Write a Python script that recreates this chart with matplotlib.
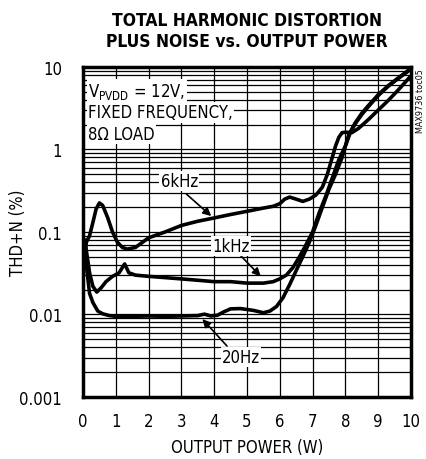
import matplotlib
matplotlib.use("Agg")
import matplotlib.pyplot as plt
from matplotlib.ticker import FixedLocator, NullFormatter

plt.rcParams['font.family'] = ['DejaVu Sans']
plt.rcParams['font.stretch'] = 'condensed'
plt.rcParams['mathtext.fontset'] = 'custom'
plt.rcParams['mathtext.rm'] = 'DejaVu Sans:stretch=condensed'

# 6kHz curve
p_6k = [0.05, 0.1, 0.2, 0.3, 0.4, 0.5, 0.6, 0.75, 0.9, 1.05, 1.2, 1.35, 1.6, 2.0,
        2.5, 3.0, 3.5, 4.0, 4.5, 5.0, 5.5, 5.8, 6.0, 6.15, 6.3, 6.5, 6.7, 6.9,
        7.1, 7.3, 7.45, 7.6, 7.7, 7.8, 7.9, 8.0, 8.2, 8.4, 8.7, 9.0, 9.3, 9.6, 10.0]
thd_6k = [0.05, 0.075, 0.09, 0.13, 0.19, 0.225, 0.21, 0.15, 0.1, 0.075, 0.065, 0.062,
          0.065, 0.085, 0.1, 0.12, 0.135, 0.148, 0.163, 0.178, 0.195, 0.205, 0.22,
          0.25, 0.265, 0.25, 0.235, 0.25, 0.28, 0.35, 0.5, 0.8, 1.1, 1.4, 1.6, 1.62,
          1.6, 1.8, 2.3, 3.0, 3.9, 5.2, 7.8]

# 1kHz curve
p_1k = [0.05, 0.1, 0.2, 0.3, 0.42, 0.55, 0.7, 0.9, 1.1, 1.27, 1.4, 1.6, 2.0, 2.5,
        3.0, 3.5, 4.0, 4.5, 5.0, 5.5, 5.8, 6.0, 6.2, 6.4, 6.6, 6.8, 7.0, 7.2, 7.4,
        7.6, 7.8, 8.0, 8.15, 8.3, 8.5, 8.7, 9.0, 9.3, 9.6, 10.0]
thd_1k = [0.08, 0.06, 0.032, 0.022, 0.0187, 0.021, 0.025, 0.029, 0.032, 0.041, 0.032,
          0.03, 0.029, 0.028, 0.027, 0.026, 0.025, 0.025, 0.024, 0.024, 0.025, 0.027,
          0.03, 0.037, 0.05, 0.07, 0.1, 0.17, 0.27, 0.45, 0.75, 1.1, 1.6, 2.05, 2.65,
          3.3, 4.5, 5.8, 7.2, 9.4]

# 20Hz curve
p_20 = [0.05, 0.1, 0.2, 0.3, 0.45, 0.6, 0.8, 1.0, 1.5, 2.0, 2.5, 3.0, 3.5, 3.7, 3.9,
        4.1, 4.3, 4.5, 4.8, 5.2, 5.5, 5.7, 5.9, 6.1, 6.3, 6.5, 6.7, 6.9, 7.1, 7.3,
        7.5, 7.7, 7.9, 8.1, 8.3, 8.5, 8.7, 9.0, 9.3, 9.6, 10.0]
thd_20 = [0.08, 0.04, 0.018, 0.014, 0.011, 0.0102, 0.0097, 0.0095, 0.0095, 0.0096,
          0.0095, 0.0096, 0.0097, 0.0101, 0.0096, 0.0098, 0.0108, 0.0117, 0.0118,
          0.0112, 0.0105, 0.011, 0.0125, 0.016, 0.023, 0.034, 0.05, 0.075, 0.12, 0.2,
          0.33, 0.5, 0.8, 1.5, 2.1, 2.75, 3.4, 4.6, 5.9, 7.3, 9.6]

x_ticks = [0, 1, 2, 3, 4, 5, 6, 7, 8, 9, 10]
y_ticks = [0.001, 0.01, 0.1, 1, 10]
y_labels = ['0.001', '0.01', '0.1', '1', '10']

fig = plt.figure(figsize=(4.27, 4.60), dpi=100)
ax = fig.add_axes([0.1944, 0.1348, 0.768, 0.7174])

for x, y in [(p_6k, thd_6k), (p_1k, thd_1k), (p_20, thd_20)]:
    ax.plot(x, y, color='black', lw=2.6, solid_capstyle='round', zorder=3)

ax.set_yscale('log')
ax.set_xlim(0, 10)
ax.set_ylim(0.001, 10)
ax.set_xticks(x_ticks)
ax.set_xticklabels([str(t) for t in x_ticks])
ax.set_yticks(y_ticks)
ax.set_yticklabels(y_labels)
ax.yaxis.set_minor_locator(FixedLocator([m * 10.0 ** e for e in range(-3, 1) for m in range(2, 10)]))
ax.yaxis.set_minor_formatter(NullFormatter())
ax.grid(True, which='both', color='black', lw=0.9)
ax.tick_params(which='both', length=0, labelsize=12)
ax.tick_params(axis='x', pad=11)
ax.tick_params(axis='y', pad=15)
for s in ax.spines.values():
    s.set_linewidth(2.5)

ax.set_xlabel('OUTPUT POWER (W)', fontsize=12)
ax.set_ylabel('THD+N (%)', fontsize=12)
ax.xaxis.set_label_coords(0.5, -0.125)
ax.yaxis.set_label_coords(-0.17, 0.5)
fig.suptitle('TOTAL HARMONIC DISTORTION\nPLUS NOISE vs. OUTPUT POWER',
             x=0.578, y=0.975, fontsize=12.5, fontweight='heavy', linespacing=1.25)

box = dict(facecolor='white', edgecolor='none', pad=1)
cond = [r'V$_{\mathrm{PVDD}}$ = 12V,', 'FIXED FREQUENCY,', '8\u03a9 LOAD']
for i, t in enumerate(cond):
    ax.text(0.016, 0.928 - i * 0.065, t, transform=ax.transAxes, fontsize=12,
            va='center', ha='left', bbox=box, zorder=4)

arrow = dict(arrowstyle='-|>', color='black', lw=1.2, mutation_scale=12, shrinkA=0, shrinkB=0)
ax.annotate('', xy=(3.91, 0.156), xytext=(3.15, 0.289), arrowprops=arrow, zorder=4)
ax.text(2.94, 0.415, '6kHz', fontsize=12, ha='center', va='center', bbox=box, zorder=4)
ax.annotate('', xy=(5.42, 0.029), xytext=(4.82, 0.051), arrowprops=arrow, zorder=4)
ax.text(4.52, 0.0676, '1kHz', fontsize=12, ha='center', va='center', bbox=box, zorder=4)
ax.annotate('', xy=(3.64, 0.0088), xytext=(4.39, 0.00415), arrowprops=arrow, zorder=4)
ax.text(4.82, 0.00305, '20Hz', fontsize=12, ha='center', va='center', bbox=box, zorder=4)

fig.text(0.984, 0.78, 'MAX9736 toc05', rotation=90, fontsize=6.5, ha='center', va='center')

fig.savefig('out.png', dpi=100)
